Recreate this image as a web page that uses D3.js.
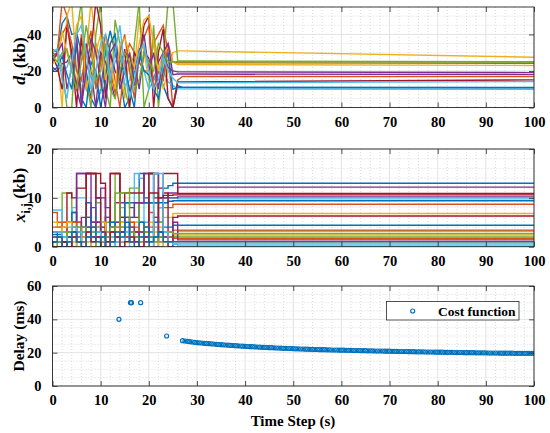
<!DOCTYPE html>
<html>
<head>
<meta charset="utf-8">
<script src="https://cdn.jsdelivr.net/npm/d3@7"></script>
<style>
    body { margin: 0; background: #fff; }
    text { font-family: "Liberation Serif", "Times New Roman", serif; font-weight: bold; fill: #000; }
</style>
</head>
<body>
<svg id="chart" width="550" height="433"></svg>
<script>
// MATLAB default colour order
const colorOrder = ['#0072BD', '#D95319', '#EDB120', '#7E2F8E', '#77AC30', '#4DBEEE', '#A2142F'];

// tick labels
const timeTicks = [0, 10, 20, 30, 40, 50, 60, 70, 80, 90, 100];
const dTicks = [0, 20, 40];
const xijTicks = [0, 10, 20];
const delayTicks = [0, 20, 40, 60];

// transient phase sampled every second, t = 0 .. 26
const transTimes = [0, 1, 2, 3, 4, 5, 6, 7, 8, 9, 10, 11, 12, 13, 14, 15, 16, 17, 18, 19, 20, 21, 22, 23, 24, 25, 26];
const steadyFrom = 27;
const steadyTo = 100;

// d_i (kb) : transient values per node
const dTransient = [
    [28, 30, 46, 50, 40, 41, 30, 20, 5, 0, 10, 30, 42, 30, 18, 0, 5, 20, 32, 33, 22, 15, 20, 12, 5, 0, 12],
    [32, 30, 58, 50, 25, 12, 40, 10, 5, 35, 25, 40, 30, 15, 0, 25, 35, 30, 25, 20, 20, 35, 40, 45, 30, 0, 15],
    [26, 30, 0, 50, 58, 20, 8, 30, 58, 35, 10, 20, 35, 40, 20, 5, 30, 20, 50, 30, 15, 40, 25, 10, 20, 30, 31],
    [22, 20, 24, 25, 30, 10, 0, 35, 20, 0, 30, 25, 15, 5, 25, 30, 28, 25, 10, 30, 27, 15, 25, 30, 22, 20, 19.5],
    [30, 32, 22, 0, 0, 40, 58, 15, 0, 40, 58, 10, 0, 48, 35, 10, 0, 35, 58, 0, 10, 45, 0, 25, 58, 58, 25.5],
    [27, 25, 20, 22, 30, 35, 15, 10, 18, 12, 8, 20, 15, 25, 30, 12, 15, 25, 30, 20, 10, 15, 22, 20, 14, 12, 10.2],
    [28, 22, 10, 45, 30, 0, 38, 20, 30, 58, 45, 5, 30, 20, 15, 32, 0, 30, 25, 45, 50, 0, 30, 43, 5, 0, 14],
    [20, 22, 28, 18, 10, 35, 5, 0, 25, 20, 0, 15, 35, 40, 20, 22, 10, 0, 30, 20, 18, 10, 5, 20, 30, 10, 11],
    [30, 28, 40, 45, 35, 20, 15, 30, 42, 10, 25, 35, 20, 8, 30, 40, 20, 5, 30, 38, 45, 10, 20, 15, 35, 25, 24.5],
    [24, 26, 42, 30, 20, 45, 50, 10, 20, 30, 40, 15, 25, 10, 35, 38, 30, 22, 35, 48, 50, 35, 20, 30, 33, 25, 23.5],
    [25, 30, 35, 10, 22, 40, 0, 20, 38, 30, 15, 0, 30, 35, 10, 20, 30, 12, 30, 40, 20, 30, 10, 30, 35, 18, 18.3],
    [28, 25, 30, 32, 20, 10, 25, 45, 30, 15, 20, 35, 10, 5, 20, 30, 25, 10, 15, 30, 25, 20, 35, 30, 25, 25, 25],
    [30, 32, 15, 5, 25, 40, 45, 30, 10, 20, 35, 40, 15, 30, 45, 20, 5, 15, 30, 35, 20, 10, 15, 28, 20, 16, 13.5]
];
// d_i steady values at t = 27 and t = 100
const dStart = [11, 17, 31, 19.5, 25.5, 10.2, 14, 11, 24.5, 23.5, 18.3, 25, 13.5];
const dEnd = [11, 16.9, 27.5, 19.1, 25, 10, 15.1, 10.8, 24.2, 23, 18, 24.8, 14.2];

// x_ij (kb) : transient values per link
const xTransient = [
    [0, 0, 1, 3, 7, 5, 2, 4, 8, 5, 3, 1, 4, 2, 6, 3, 1, 2, 15, 10, 3, 5, 8, 12, 12.5, 13, 13],
    [7, 5, 4, 5, 5, 5, 4, 6, 3, 2, 5, 6, 4, 3, 5, 6, 4, 3, 5, 4, 7, 6, 5, 8, 8, 8.7, 8.7],
    [5, 4, 2, 1, 5, 4, 3, 2, 1, 3, 5, 2, 1, 4, 5, 3, 2, 5, 3, 5, 15, 15, 10, 6, 6, 6.8, 6.8],
    [3, 2, 1, 1, 5, 15, 15, 15, 15, 10, 12, 8, 5, 9, 9, 9, 8, 6, 9, 9, 9, 9, 10, 10, 11, 11, 12.2],
    [0, 2, 11, 11, 5, 4, 3, 15, 15, 9, 3, 5, 2, 15, 11, 11, 12, 12, 5, 2, 15, 15, 5, 2, 1, 2, 3.2],
    [7.5, 7.5, 3, 4, 8, 10, 10, 2, 3, 10, 4, 2, 3, 5, 8, 6, 6, 15, 14, 5, 15, 15, 8, 9, 10, 10, 9.8],
    [1, 1, 0, 11, 10, 12, 12, 15, 15, 15, 13, 0, 15, 15, 6, 11, 11, 11, 11, 15, 15, 0, 12, 15, 15, 15, 10.9],
    [2.5, 2.5, 1, 3, 7, 1, 4, 9, 5, 3, 2, 6, 4, 1, 3, 9, 9, 9, 9, 9, 9, 9, 9, 9, 9.3, 9.4, 9.4],
    [1, 1, 2, 5, 3, 1, 2, 3, 4, 2, 1, 3, 2, 3, 4, 2, 3, 1, 2, 3, 4, 2, 1, 3, 3, 3.4, 3.4],
    [0, 0, 5, 5, 4, 3, 2, 1, 0, 5, 5, 3, 1, 0, 2, 3, 5, 5, 2, 1, 0, 3, 4, 2, 2, 2.4, 2.4],
    [3, 3, 1, 2, 5, 15, 15, 15, 5, 10, 10, 2, 3, 5, 3, 2, 6, 9, 9, 15, 15, 15, 10, 10, 10, 10, 10.2],
    [1, 1, 3, 1, 2, 4, 1, 2, 0, 1, 2, 3, 1, 11, 4, 2, 1, 2, 3, 1, 2, 4, 1, 2, 2, 2, 2],
    [0, 0, 2, 0, 1, 0, 3, 0, 1, 4, 0, 2, 0, 1, 0, 3, 0, 2, 0, 1, 0, 2, 0, 1, 0, 0, 0],
    [0, 0, 1, 2, 0, 3, 2, 15, 15, 10, 4, 0, 15, 15, 3, 2, 1, 3, 0, 4, 15, 10, 2, 11, 0, 6, 6.3],
    [1, 1, 0, 2, 4, 3, 1, 6, 2, 4, 3, 1, 5, 2, 1, 4, 3, 2, 5, 4, 1, 2, 3, 4, 4, 4.4, 4.4],
    [4, 4, 5, 5, 5, 3, 1, 2, 4, 5, 1, 0, 3, 4, 1, 2, 5, 4, 1, 3, 2, 1, 3, 1, 2, 1.7, 1.7],
    [2, 2, 4, 5, 1, 0, 2, 1, 0, 4, 5, 1, 2, 3, 0, 1, 2, 0, 1, 4, 5, 1, 0, 1, 1, 0.7, 0.7],
    [2, 2, 1, 0, 3, 2, 6, 4, 2, 5, 3, 2, 1, 2, 3, 6, 4, 2, 3, 1, 2, 6, 3, 2, 1, 5, 1.4],
    [0, 1, 0, 3, 2, 1, 4, 2, 3, 0, 1, 2, 4, 2, 11, 11, 3, 2, 1, 3, 2, 1, 2, 3, 3, 2.7, 2.7],
    [3, 3, 2, 1, 4, 3, 0, 2, 1, 3, 0, 1, 2, 0, 1, 3, 2, 1, 0, 2, 1, 15, 15, 3, 1, 0.5, 0.35],
    [0, 0, 1, 0, 2, 1, 0, 3, 1, 2, 0, 1, 3, 2, 0, 1, 2, 1, 0, 2, 11, 11, 10, 10.5, 10.5, 10.6, 10.6],
    [1, 2, 0, 1, 3, 1, 0, 2, 4, 1, 2, 0, 1, 3, 2, 5, 1, 0, 2, 4, 1, 2, 3, 1, 1, 1, 1]
];
// x_ij steady value from t = 27 on
const xSteady = [13, 8.7, 6.8, 12.2, 3.2, 9.8, 10.9, 9.4, 3.4, 2.4, 10.2, 2.0, 0, 6.3, 4.4, 1.7, 0.7, 1.4, 2.7, 0.35, 10.6, 1.0];

// cost function: isolated early samples
const earlyTimes = [13.8, 16.2, 16.4, 18.3, 23.7];
const earlyDelay = [40, 50, 50, 50, 30];
// cost function: samples every 0.5 s from t = 27 to 100
const delayFrom = 27;
const delayStep = 0.5;
const delayValues = [
    27.2, 27.0, 26.8, 26.6, 26.4, 26.2, 26.0,
    25.9, 25.8, 25.6, 25.5, 25.4, 25.3, 25.2, 25.0, 24.9, 24.8,
    24.7, 24.6, 24.5, 24.4, 24.3, 24.2, 24.1, 24.0, 23.9, 23.8,
    23.7, 23.6, 23.6, 23.5, 23.4, 23.3, 23.2, 23.2, 23.1, 23.0,
    23.0, 22.9, 22.8, 22.8, 22.7, 22.6, 22.6, 22.5, 22.5, 22.4,
    22.3, 22.3, 22.2, 22.2, 22.1, 22.1, 22.0, 22.0, 21.9, 21.9,
    21.8, 21.8, 21.8, 21.7, 21.7, 21.6, 21.6, 21.6, 21.5, 21.5,
    21.5, 21.4, 21.4, 21.4, 21.3, 21.3, 21.3, 21.2, 21.2, 21.2,
    21.1, 21.1, 21.1, 21.0, 21.0, 21.0, 21.0, 20.9, 20.9, 20.9,
    20.8, 20.8, 20.8, 20.7, 20.7, 20.7, 20.7, 20.6, 20.6, 20.6,
    20.5, 20.5, 20.5, 20.5, 20.4, 20.4, 20.4, 20.4, 20.3, 20.3,
    20.3, 20.3, 20.2, 20.2, 20.2, 20.2, 20.1, 20.1, 20.1, 20.1,
    20.0, 20.0, 20.0, 20.0, 20.0, 19.9, 19.9, 19.9, 19.9, 19.9,
    19.8, 19.8, 19.8, 19.8, 19.8, 19.7, 19.7, 19.7, 19.7, 19.7,
    19.7, 19.6, 19.6, 19.6, 19.6, 19.6, 19.6, 19.6, 19.6, 19.6
];

const svg = d3.select('#chart');
const left = 52.5, right = 534;
const serif = '"Liberation Serif", "Times New Roman", serif';

// Draws grid, box, ticks and tick labels of one subplot and returns its scales
function makePanel(cfg) {
    const x = d3.scaleLinear().domain([0, 100]).range([left, right]);
    const y = d3.scaleLinear().domain([0, cfg.yMax]).range([cfg.bottom, cfg.top]);
    const g = svg.append('g');
    const id = 'clip' + cfg.name;

    svg.append('clipPath').attr('id', id)
        .append('rect')
        .attr('x', left).attr('y', cfg.top)
        .attr('width', right - left).attr('height', cfg.bottom - cfg.top);

    // minor grid (dotted)
    const xMinor = d3.range(2, 100, 2).filter(v => v % 10 !== 0);
    const yMinor = d3.range(cfg.yMinorStep, cfg.yMax, cfg.yMinorStep).filter(v => !cfg.yTicks.includes(v));
    g.selectAll('.xm').data(xMinor).join('line')
        .attr('x1', d => x(d)).attr('x2', d => x(d))
        .attr('y1', cfg.top).attr('y2', cfg.bottom)
        .attr('stroke', '#c4c4c4').attr('stroke-width', 0.6).attr('stroke-dasharray', '1,2');
    g.selectAll('.ym').data(yMinor).join('line')
        .attr('x1', left).attr('x2', right)
        .attr('y1', d => y(d)).attr('y2', d => y(d))
        .attr('stroke', '#c4c4c4').attr('stroke-width', 0.6).attr('stroke-dasharray', '1,2');

    // major grid
    g.selectAll('.xg').data(timeTicks).join('line')
        .attr('x1', d => x(d)).attr('x2', d => x(d))
        .attr('y1', cfg.top).attr('y2', cfg.bottom)
        .attr('stroke', '#dcdcdc').attr('stroke-width', 0.8);
    g.selectAll('.yg').data(cfg.yTicks).join('line')
        .attr('x1', left).attr('x2', right)
        .attr('y1', d => y(d)).attr('y2', d => y(d))
        .attr('stroke', '#dcdcdc').attr('stroke-width', 0.8);

    const plot = svg.append('g').attr('clip-path', `url(#${id})`);

    // axes drawn afterwards so they sit on top of the data
    const axes = svg.append('g').attr('class', 'axes');
    const tick = 5;
    const bottomAxis = axes.append('g').attr('transform', `translate(0,${cfg.bottom})`)
        .call(d3.axisBottom(x).tickValues(timeTicks).tickSize(-tick).tickPadding(9));
    const topAxis = axes.append('g').attr('transform', `translate(0,${cfg.top})`)
        .call(d3.axisTop(x).tickValues(timeTicks).tickSize(-tick).tickFormat(''));
    const leftAxis = axes.append('g').attr('transform', `translate(${left},0)`)
        .call(d3.axisLeft(y).tickValues(cfg.yTicks).tickSize(-tick).tickPadding(11));
    const rightAxis = axes.append('g').attr('transform', `translate(${right},0)`)
        .call(d3.axisRight(y).tickValues(cfg.yTicks).tickSize(-tick).tickFormat(''));

    [bottomAxis, topAxis, leftAxis, rightAxis].forEach(a => {
        a.attr('font-family', serif).attr('font-size', 14.5).attr('font-weight', 'bold');
        a.select('.domain').remove();
        a.selectAll('line').attr('stroke', '#262626').attr('stroke-width', 0.8);
        a.selectAll('text').attr('fill', '#000');
    });
    bottomAxis.selectAll('text').attr('dy', '0.71em');

    axes.append('rect')
        .attr('x', left).attr('y', cfg.top)
        .attr('width', right - left).attr('height', cfg.bottom - cfg.top)
        .attr('fill', 'none').attr('stroke', '#262626').attr('stroke-width', 0.9);

    return { x, y, plot, axes };
}

// ---- top panel: d_i ----
const p1 = makePanel({ name: 'd', top: 7, bottom: 107.5, yMax: 55, yTicks: dTicks, yMinorStep: 5 });
const dLine = d3.line().x(d => p1.x(d[0])).y(d => p1.y(d[1]));
dTransient.forEach((vals, i) => {
    const pts = transTimes.map((t, k) => [t, vals[k]]);
    pts.push([steadyFrom, dStart[i]], [steadyTo, dEnd[i]]);
    p1.plot.append('path')
        .attr('d', dLine(pts))
        .attr('fill', 'none')
        .attr('stroke', colorOrder[i % colorOrder.length])
        .attr('stroke-width', 1.4);
});

// ---- middle panel: x_ij ----
const p2 = makePanel({ name: 'x', top: 149, bottom: 246.7, yMax: 20, yTicks: xijTicks, yMinorStep: 2 });
const xLine = d3.line().curve(d3.curveStepAfter).x(d => p2.x(d[0])).y(d => p2.y(d[1]));
xTransient.forEach((vals, i) => {
    const pts = transTimes.map((t, k) => [t, vals[k]]);
    pts.push([steadyFrom, xSteady[i]], [steadyTo, xSteady[i]]);
    p2.plot.append('path')
        .attr('d', xLine(pts))
        .attr('fill', 'none')
        .attr('stroke', colorOrder[i % colorOrder.length])
        .attr('stroke-width', 1.4);
});

// ---- bottom panel: delay ----
const p3 = makePanel({ name: 'delay', top: 286, bottom: 386, yMax: 60, yTicks: delayTicks, yMinorStep: 5 });
const delayPts = earlyTimes.map((t, k) => [t, earlyDelay[k]])
    .concat(delayValues.map((v, k) => [delayFrom + k * delayStep, v]));
p3.plot.selectAll('circle').data(delayPts).join('circle')
    .attr('cx', d => p3.x(d[0]))
    .attr('cy', d => p3.y(d[1]))
    .attr('r', 2)
    .attr('fill', 'none')
    .attr('stroke', colorOrder[0])
    .attr('stroke-width', 1.2);

// legend
const legend = svg.append('g');
legend.append('rect')
    .attr('x', 386.5).attr('y', 301.5).attr('width', 132.5).attr('height', 18.5)
    .attr('fill', '#fff').attr('stroke', '#262626').attr('stroke-width', 0.8);
legend.append('circle')
    .attr('cx', 412.7).attr('cy', 311).attr('r', 2)
    .attr('fill', 'none').attr('stroke', colorOrder[0]).attr('stroke-width', 1.2);
legend.append('text')
    .attr('x', 438).attr('y', 316)
    .style('font-size', '13.5px')
    .text('Cost function');

// axis labels
const yLabel1 = svg.append('text')
    .attr('transform', 'translate(25,61) rotate(-90)')
    .attr('text-anchor', 'middle')
    .style('font-size', '17.5px');
yLabel1.append('tspan').style('font-style', 'italic').text('d');
yLabel1.append('tspan').attr('dy', 5).style('font-size', '12px').text('i');
yLabel1.append('tspan').attr('dy', -5).text(' (kb)');

const yLabel2 = svg.append('text')
    .attr('transform', 'translate(25,195) rotate(-90)')
    .attr('text-anchor', 'middle')
    .style('font-size', '17.5px');
yLabel2.append('tspan').style('font-style', 'italic').text('x');
yLabel2.append('tspan').attr('dy', 5).style('font-size', '12px').text('i,j');
yLabel2.append('tspan').attr('dy', -5).text(' (kb)');

svg.append('text')
    .attr('transform', 'translate(24,336) rotate(-90)')
    .attr('text-anchor', 'middle')
    .style('font-size', '15.5px')
    .text('Delay (ms)');

svg.append('text')
    .attr('x', 293).attr('y', 426)
    .attr('text-anchor', 'middle')
    .style('font-size', '15px')
    .text('Time Step (s)');
</script>
</body>
</html>
